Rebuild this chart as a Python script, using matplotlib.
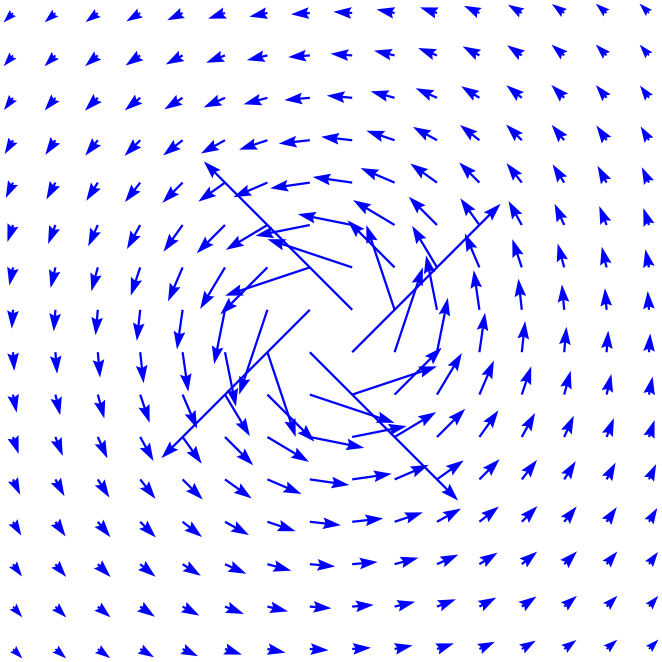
import numpy as np
import matplotlib
matplotlib.use("Agg")
import matplotlib.pyplot as plt

# vortex field, rows from top to bottom, columns left to right
U = [
    [-.067, -.076, -.087, -.098, -.109, -.120, -.128, -.133, -.133, -.128, -.120, -.109, -.098, -.087, -.076, -.067],
    [-.066, -.077, -.090, -.104, -.119, -.134, -.146, -.153, -.153, -.146, -.134, -.119, -.104, -.090, -.077, -.066],
    [-.064, -.076, -.091, -.109, -.129, -.151, -.169, -.180, -.180, -.169, -.151, -.129, -.109, -.091, -.076, -.064],
    [-.059, -.072, -.089, -.111, -.138, -.170, -.200, -.220, -.220, -.200, -.170, -.138, -.111, -.089, -.072, -.059],
    [-.051, -.064, -.082, -.108, -.143, -.189, -.241, -.280, -.280, -.241, -.189, -.143, -.108, -.082, -.064, -.051],
    [-.040, -.052, -.068, -.094, -.135, -.200, -.294, -.385, -.385, -.294, -.200, -.135, -.094, -.068, -.052, -.040],
    [-.026, -.034, -.046, -.067, -.103, -.176, -.333, -.600, -.600, -.333, -.176, -.103, -.067, -.046, -.034, -.026],
    [-.009, -.012, -.016, -.024, -.040, -.077, -.200, -1.05, -1.05, -.200, -.077, -.040, -.024, -.016, -.012, -.009],
    [.009, .012, .016, .024, .040, .077, .200, 1.05, 1.05, .200, .077, .040, .024, .016, .012, .009],
    [.026, .034, .046, .067, .103, .176, .333, .600, .600, .333, .176, .103, .067, .046, .034, .026],
    [.040, .052, .068, .094, .135, .200, .294, .385, .385, .294, .200, .135, .094, .068, .052, .040],
    [.051, .064, .082, .108, .143, .189, .241, .280, .280, .241, .189, .143, .108, .082, .064, .051],
    [.059, .072, .089, .111, .138, .170, .200, .220, .220, .200, .170, .138, .111, .089, .072, .059],
    [.064, .076, .091, .109, .129, .151, .169, .180, .180, .169, .151, .129, .109, .091, .076, .064],
    [.066, .077, .090, .104, .119, .134, .146, .153, .153, .146, .134, .119, .104, .090, .077, .066],
    [.067, .076, .087, .098, .109, .120, .128, .133, .133, .128, .120, .109, .098, .087, .076, .067],
]

V = [
    [-.067, -.066, -.064, -.059, -.051, -.040, -.026, -.009, .009, .026, .040, .051, .059, .064, .066, .067],
    [-.076, -.077, -.076, -.072, -.064, -.052, -.034, -.012, .012, .034, .052, .064, .072, .076, .077, .076],
    [-.087, -.090, -.091, -.089, -.082, -.068, -.046, -.016, .016, .046, .068, .082, .089, .091, .090, .087],
    [-.098, -.104, -.109, -.111, -.108, -.094, -.067, -.024, .024, .067, .094, .108, .111, .109, .104, .098],
    [-.109, -.119, -.129, -.138, -.143, -.135, -.103, -.040, .040, .103, .135, .143, .138, .129, .119, .109],
    [-.120, -.134, -.151, -.170, -.189, -.200, -.176, -.077, .077, .176, .200, .189, .170, .151, .134, .120],
    [-.128, -.146, -.169, -.200, -.241, -.294, -.333, -.200, .200, .333, .294, .241, .200, .169, .146, .128],
    [-.133, -.153, -.180, -.220, -.280, -.385, -.600, -1.05, 1.05, .600, .385, .280, .220, .180, .153, .133],
    [-.133, -.153, -.180, -.220, -.280, -.385, -.600, -1.05, 1.05, .600, .385, .280, .220, .180, .153, .133],
    [-.128, -.146, -.169, -.200, -.241, -.294, -.333, -.200, .200, .333, .294, .241, .200, .169, .146, .128],
    [-.120, -.134, -.151, -.170, -.189, -.200, -.176, -.077, .077, .176, .200, .189, .170, .151, .134, .120],
    [-.109, -.119, -.129, -.138, -.143, -.135, -.103, -.040, .040, .103, .135, .143, .138, .129, .119, .109],
    [-.098, -.104, -.109, -.111, -.108, -.094, -.067, -.024, .024, .067, .094, .108, .111, .109, .104, .098],
    [-.087, -.090, -.091, -.089, -.082, -.068, -.046, -.016, .016, .046, .068, .082, .089, .091, .090, .087],
    [-.076, -.077, -.076, -.072, -.064, -.052, -.034, -.012, .012, .034, .052, .064, .072, .076, .077, .076],
    [-.067, -.066, -.064, -.059, -.051, -.040, -.026, -.009, .009, .026, .040, .051, .059, .064, .066, .067],
]

U = np.array(U)
V = np.array(V)
n = U.shape[0]
cols = np.arange(n)
rows = np.arange(n)[::-1]  # first row is the top one
X, Y = np.meshgrid(cols, rows)

fig = plt.figure(figsize=(6.62, 6.62), dpi=100)
ax = fig.add_axes([0, 0, 1, 1])
ax.quiver(X, Y, U, V, color="b", angles="xy", scale_units="xy", scale=0.3,
          width=0.0034, headwidth=5.2, headlength=8, headaxislength=7)

half = 7.807
ax.set_xlim(7.5 - half, 7.5 + half)
ax.set_ylim(7.5 - half, 7.5 + half)
ax.axis("off")

fig.savefig("out.png", dpi=100)
